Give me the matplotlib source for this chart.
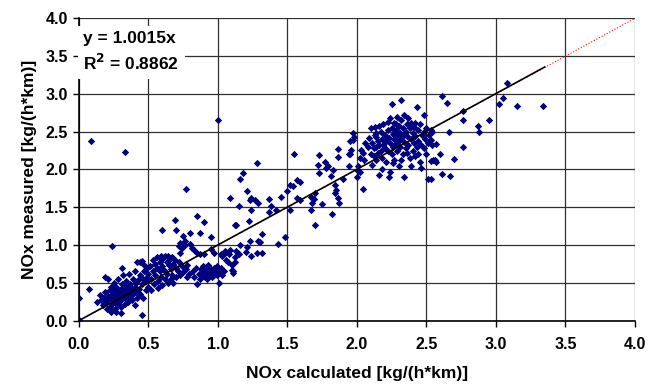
import numpy as np
import matplotlib
matplotlib.use("Agg")
import matplotlib.pyplot as plt

plt.rcParams["font.family"] = ["Liberation Sans", "DejaVu Sans"]
plt.rcParams["font.weight"] = "bold"

# points, grouped by region of the plot
outliers = [(0.00, 0.01), (0.00, 0.30), (0.07, 0.42), (0.09, 2.38), (0.33, 2.23),
            (0.45, 0.07), (0.24, 0.99), (1.00, 2.65), (0.77, 1.74), (0.85, 1.39),
            (0.90, 1.31), (0.31, 0.70), (0.69, 1.33), (0.70, 1.20), (0.60, 1.20)]

low_cluster = [(0.13, 0.25), (0.15, 0.34), (0.16, 0.27), (0.17, 0.20), (0.18, 0.22),
               (0.18, 0.30), (0.19, 0.58), (0.19, 0.38), (0.20, 0.15), (0.20, 0.26),
               (0.21, 0.55), (0.21, 0.33), (0.22, 0.18), (0.22, 0.40), (0.23, 0.28),
               (0.23, 0.45), (0.24, 0.22), (0.24, 0.35), (0.25, 0.30), (0.25, 0.50),
               (0.26, 0.15), (0.26, 0.40), (0.26, 0.25), (0.27, 0.35), (0.27, 0.45),
               (0.28, 0.20), (0.28, 0.30), (0.28, 0.55), (0.29, 0.38), (0.29, 0.25),
               (0.30, 0.42), (0.30, 0.33), (0.30, 0.18), (0.31, 0.48), (0.31, 0.28),
               (0.32, 0.36), (0.32, 0.60), (0.33, 0.22), (0.33, 0.40), (0.33, 0.30),
               (0.34, 0.45), (0.34, 0.52), (0.35, 0.43), (0.35, 0.35), (0.35, 0.25),
               (0.36, 0.38), (0.36, 0.62), (0.37, 0.30), (0.37, 0.48), (0.38, 0.27),
               (0.38, 0.42), (0.39, 0.55), (0.39, 0.35), (0.40, 0.45), (0.40, 0.20),
               (0.40, 0.65), (0.41, 0.38), (0.41, 0.50), (0.42, 0.78), (0.42, 0.30),
               (0.43, 0.55), (0.43, 0.42), (0.44, 0.77), (0.44, 0.60), (0.44, 0.35),
               (0.45, 0.79), (0.45, 0.48), (0.46, 0.30), (0.46, 0.55), (0.47, 0.74),
               (0.47, 0.65), (0.48, 0.40), (0.48, 0.52), (0.49, 0.70), (0.49, 0.58),
               (0.50, 0.45), (0.50, 0.62), (0.27, 0.12), (0.23, 0.12), (0.30, 0.10)]

mid_low = [(0.51, 0.72), (0.52, 0.55), (0.52, 0.40), (0.53, 0.80), (0.53, 0.66),
           (0.54, 0.48), (0.55, 0.75), (0.55, 0.60), (0.56, 0.84), (0.56, 0.70),
           (0.57, 0.52), (0.57, 0.43), (0.58, 0.78), (0.58, 0.65), (0.59, 0.86),
           (0.59, 0.58), (0.60, 0.82), (0.60, 0.72), (0.60, 0.47), (0.61, 0.67),
           (0.62, 0.85), (0.62, 0.55), (0.63, 0.78), (0.63, 0.62), (0.64, 0.86),
           (0.64, 0.50), (0.65, 0.74), (0.65, 0.80), (0.66, 0.68), (0.66, 0.55),
           (0.67, 0.84), (0.67, 0.60), (0.68, 0.75), (0.68, 0.50), (0.69, 0.80),
           (0.70, 0.70), (0.70, 0.58), (0.71, 0.65), (0.72, 0.99), (0.72, 0.78),
           (0.73, 0.90), (0.73, 1.03), (0.73, 0.60), (0.74, 0.96), (0.74, 0.72),
           (0.75, 1.12), (0.75, 0.64), (0.76, 1.05), (0.76, 1.00), (0.77, 0.68),
           (0.78, 0.58), (0.78, 0.74), (0.79, 0.62)]

mid = [(0.80, 1.16), (0.80, 1.02), (0.81, 0.96), (0.82, 0.66), (0.83, 0.94),
       (0.83, 0.58), (0.84, 0.70), (0.85, 0.89), (0.85, 0.48), (0.86, 0.62),
       (0.87, 1.16), (0.87, 0.88), (0.87, 0.55), (0.88, 0.68), (0.89, 0.72),
       (0.89, 0.60), (0.90, 0.88), (0.90, 0.64), (0.91, 0.58), (0.91, 0.70),
       (0.92, 0.66), (0.92, 0.55), (0.93, 0.62), (0.93, 0.74), (0.94, 0.60),
       (0.95, 1.10), (0.95, 0.95), (0.95, 0.68), (0.96, 0.64), (0.96, 0.58),
       (0.97, 0.90), (0.97, 0.70), (0.98, 0.62), (0.98, 0.66), (0.99, 0.60),
       (0.99, 0.72), (1.00, 0.68), (1.01, 0.50), (1.01, 0.64), (1.02, 0.70),
       (1.02, 0.88), (1.03, 0.60), (1.03, 0.85), (1.04, 0.66), (1.05, 0.90),
       (1.05, 0.92), (1.06, 0.80), (1.07, 0.78), (1.08, 0.88), (1.09, 0.94),
       (1.10, 0.67), (1.10, 0.74), (1.11, 0.63), (1.11, 0.65), (1.12, 0.78),
       (1.12, 0.84), (1.13, 0.92), (1.15, 0.88)]

mid_high = [(1.09, 1.62), (1.12, 1.27), (1.13, 1.26), (1.15, 1.52), (1.16, 1.87),
            (1.18, 1.95), (1.16, 1.00), (1.20, 0.91), (1.21, 0.97), (1.21, 1.71),
            (1.22, 1.32), (1.23, 1.05), (1.23, 1.60), (1.24, 1.62), (1.24, 1.46),
            (1.24, 0.85), (1.27, 1.59), (1.28, 0.89), (1.28, 2.09), (1.29, 1.56),
            (1.29, 1.05), (1.30, 1.04), (1.32, 1.14), (1.32, 0.89), (1.37, 1.61),
            (1.38, 1.52), (1.37, 1.44), (1.42, 1.47), (1.43, 1.02), (1.45, 1.64),
            (1.48, 1.10), (1.50, 1.71), (1.52, 1.80), (1.54, 1.78), (1.52, 1.46),
            (1.55, 2.21), (1.57, 1.86), (1.59, 1.84), (1.57, 1.62), (1.59, 1.60)]

upper_mid = [(1.67, 1.64), (1.69, 1.61), (1.68, 1.56), (1.70, 1.69), (1.67, 1.46),
             (1.70, 1.27), (1.75, 1.54), (1.73, 1.95), (1.72, 2.06), (1.73, 2.19),
             (1.77, 2.10), (1.78, 2.02), (1.79, 2.04), (1.81, 1.91), (1.82, 1.41),
             (1.83, 1.99), (1.84, 1.69), (1.85, 1.73), (1.84, 1.80), (1.86, 1.62),
             (1.87, 1.56), (1.86, 2.27), (1.86, 2.16), (1.90, 1.88), (1.94, 2.21),
             (1.94, 2.04), (1.95, 2.37), (1.95, 2.20), (1.96, 2.26), (1.97, 2.48),
             (1.98, 2.43), (1.97, 2.39), (2.01, 2.04), (2.01, 1.98), (2.02, 1.97),
             (2.00, 1.90), (2.03, 2.26), (2.04, 2.22), (2.02, 2.15), (2.05, 2.12),
             (2.04, 1.74), (2.06, 2.35)]

high_cluster = [(2.08, 2.30), (2.09, 2.42), (2.10, 2.20), (2.10, 2.55), (2.11, 2.06),
                (2.11, 2.35), (2.12, 2.28), (2.13, 2.56), (2.13, 2.45), (2.14, 2.48),
                (2.14, 2.43), (2.14, 2.13), (2.14, 2.30), (2.15, 2.38), (2.15, 2.22),
                (2.16, 1.93), (2.16, 2.32), (2.17, 2.50), (2.17, 2.25), (2.18, 2.40),
                (2.18, 2.15), (2.19, 2.33), (2.19, 2.60), (2.20, 2.28), (2.20, 2.45),
                (2.21, 2.38), (2.21, 2.10), (2.22, 2.63), (2.22, 2.52), (2.22, 2.25),
                (2.23, 1.90), (2.23, 2.42), (2.24, 1.97), (2.24, 2.35), (2.24, 2.68),
                (2.25, 2.87), (2.25, 2.55), (2.25, 2.20), (2.26, 2.47), (2.26, 2.30),
                (2.27, 2.62), (2.27, 2.40), (2.27, 2.12), (2.28, 2.52), (2.28, 2.34),
                (2.29, 2.70), (2.29, 2.45), (2.29, 2.25), (2.30, 2.58), (2.30, 2.38),
                (2.30, 2.05), (2.31, 2.48), (2.31, 2.30), (2.32, 2.92), (2.32, 2.65),
                (2.32, 2.42), (2.33, 2.55), (2.33, 2.20), (2.34, 1.90), (2.34, 2.36),
                (2.34, 2.72), (2.35, 2.50), (2.35, 2.28), (2.36, 2.60), (2.36, 2.44),
                (2.37, 2.33), (2.37, 2.68), (2.38, 2.55), (2.38, 2.15), (2.39, 2.05),
                (2.39, 2.40), (2.39, 2.62), (2.40, 2.48), (2.40, 2.25), (2.41, 2.35),
                (2.41, 2.56), (2.42, 2.44), (2.42, 2.18), (2.43, 2.82), (2.43, 2.30),
                (2.44, 2.52), (2.44, 2.38), (2.45, 2.10), (2.45, 2.60), (2.46, 2.02),
                (2.46, 2.33), (2.47, 2.45), (2.48, 2.72), (2.48, 2.28), (2.49, 2.40),
                (2.50, 2.55), (2.50, 2.20), (2.51, 1.87), (2.51, 2.35), (2.52, 2.45),
                (2.53, 2.11), (2.53, 2.52), (2.53, 2.39), (2.54, 2.32), (2.54, 2.50),
                (2.55, 2.12), (2.56, 2.12), (2.57, 2.34), (2.57, 2.10), (2.53, 1.87),
                (2.18, 2.00), (2.26, 2.08), (2.32, 2.12), (2.12, 2.18), (2.20, 2.36),
                (2.36, 2.22), (2.42, 2.62), (2.16, 2.58), (2.28, 2.60), (2.34, 2.46),
                (2.48, 2.50), (2.44, 2.20)]

top_right = [(2.60, 2.20), (2.61, 2.97), (2.61, 1.94), (2.65, 2.88), (2.66, 2.49),
             (2.67, 1.91), (2.70, 2.14), (2.76, 2.77), (2.76, 2.65), (2.76, 2.30),
             (2.87, 2.57), (2.88, 2.50), (2.95, 2.65), (3.02, 2.87), (3.05, 2.94),
             (3.08, 3.15), (3.15, 2.84), (3.34, 2.84)]

slope = 1.0015
r2 = 0.8862
fit_end = 3.35
ticks = np.arange(0, 4.01, 0.5)

points = np.array(outliers + low_cluster + mid_low + mid + mid_high
                  + upper_mid + high_cluster + top_right)
calc = points[:, 0]
meas = points[:, 1]

fig = plt.figure(figsize=(6.58, 3.90), dpi=100)
ax = fig.add_axes([0.120, 0.178, 0.845, 0.775])

ax.set_xlim(0, 4)
ax.set_ylim(0, 4)
ax.set_xticks(ticks)
ax.set_yticks(ticks)
ax.set_xticklabels(["%.1f" % t for t in ticks], fontsize=11.5, fontweight="bold")
ax.set_yticklabels(["%.1f" % t for t in ticks], fontsize=11.5, fontweight="bold")
ax.grid(True, color="#303030", linewidth=0.9)
ax.set_axisbelow(True)
ax.tick_params(axis="x", direction="out", length=4, width=1, pad=8)
ax.tick_params(axis="y", direction="out", length=4, width=1, pad=4)
for side in ["top", "right"]:
    ax.spines[side].set_visible(False)
for side in ["left", "bottom"]:
    ax.spines[side].set_linewidth(1.2)

ax.scatter(calc, meas, marker="D", s=14, color="#000080", linewidths=0, zorder=3)

# 1:1 line (red dotted) and fitted line (black)
ax.plot([0, 4], [0, 4], color="red", linestyle=":", linewidth=0.8, zorder=4)
ax.plot([0, fit_end], [0, slope * fit_end], color="black", linewidth=1.2, zorder=5)

ax.text(0.03, 3.55, "y = %.4fx\nR$^{\\mathbf{2}}$ = %.4f" % (slope, r2),
        fontsize=12.5, fontweight="bold", va="center", ha="left", linespacing=1.4,
        bbox=dict(facecolor="white", edgecolor="none", pad=4), zorder=6)

ax.set_xlabel("NOx calculated [kg/(h*km)]", fontsize=12.5, fontweight="bold", labelpad=10)
ax.set_ylabel("NOx measured [kg/(h*km)]", fontsize=12.5, fontweight="bold", labelpad=6)

fig.savefig("out.png", dpi=100)
